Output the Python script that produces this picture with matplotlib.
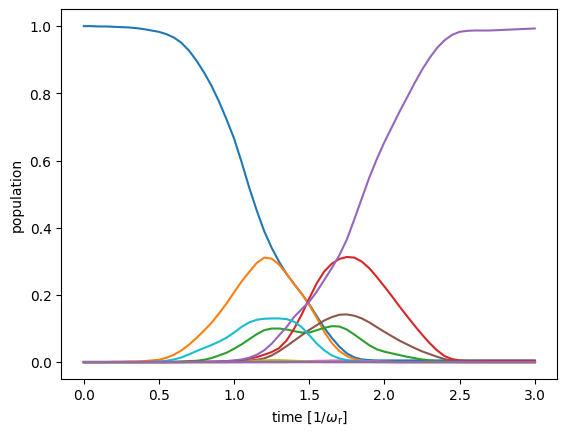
import matplotlib.pyplot as plt
import numpy as np

# time grid, step 0.05 from 0 to 3
time = np.round(np.arange(61) * 0.05, 2)

Z10 = [0.0] * 10

# populations of the states (61 samples each)
pop0 = ([1.000, 1.000, 0.999, 0.999, 0.998, 0.997, 0.996, 0.994, 0.991, 0.987]
        + [0.983, 0.976, 0.966, 0.950, 0.927, 0.897, 0.862, 0.822, 0.775, 0.722]
        + [0.665, 0.595, 0.520, 0.452, 0.390, 0.340, 0.298, 0.262, 0.232, 0.203]
        + [0.172, 0.137, 0.102, 0.072, 0.046, 0.026, 0.014, 0.008, 0.006, 0.005]
        + [0.005] * 10 + [0.005] * 10 + [0.005])
pop1 = ([0.000, 0.000, 0.000, 0.000, 0.001, 0.001, 0.002, 0.002, 0.003, 0.005]
        + [0.007, 0.013, 0.022, 0.035, 0.052, 0.072, 0.094, 0.117, 0.145, 0.175]
        + [0.208, 0.240, 0.268, 0.295, 0.311, 0.308, 0.290, 0.262, 0.232, 0.203]
        + [0.170, 0.132, 0.090, 0.057, 0.033, 0.018, 0.009, 0.004, 0.002, 0.001]
        + [0.001, 0.001] + [0.0] * 8 + Z10 + [0.0])
pop2 = (Z10
        + [0.000, 0.000, 0.001, 0.002, 0.003, 0.004, 0.007, 0.012, 0.020, 0.028]
        + [0.040, 0.053, 0.068, 0.083, 0.095, 0.100, 0.100, 0.097, 0.092, 0.088]
        + [0.088, 0.095, 0.102, 0.107, 0.106, 0.097, 0.082, 0.066, 0.050, 0.038]
        + [0.031, 0.026, 0.021, 0.016, 0.012, 0.008, 0.005, 0.003, 0.002, 0.001]
        + Z10 + [0.0])
pop3 = (Z10
        + [0.000, 0.000, 0.000, 0.000, 0.001, 0.001, 0.001, 0.001, 0.002, 0.003]
        + [0.004, 0.006, 0.010, 0.015, 0.022, 0.030, 0.042, 0.065, 0.100, 0.142]
        + [0.190, 0.235, 0.270, 0.293, 0.307, 0.313, 0.311, 0.299, 0.279, 0.253]
        + [0.225, 0.196, 0.166, 0.137, 0.109, 0.082, 0.057, 0.035, 0.018, 0.009]
        + [0.005] + [0.004] * 9 + [0.004])
pop4 = (Z10
        + [0.000, 0.000, 0.000, 0.000, 0.001, 0.001, 0.001, 0.002, 0.002, 0.003]
        + [0.005, 0.008, 0.013, 0.022, 0.035, 0.055, 0.080, 0.105, 0.135, 0.158]
        + [0.180, 0.210, 0.245, 0.280, 0.318, 0.365, 0.425, 0.488, 0.550, 0.605]
        + [0.655, 0.700, 0.745, 0.787, 0.830, 0.870, 0.905, 0.935, 0.958, 0.974]
        + [0.983, 0.986, 0.987, 0.987, 0.987, 0.988, 0.989, 0.990, 0.991, 0.992]
        + [0.993])
pop5 = (Z10 + Z10
        + [0.001, 0.002, 0.004, 0.007, 0.011, 0.020, 0.033, 0.048, 0.064, 0.080]
        + [0.096, 0.110, 0.124, 0.134, 0.141, 0.142, 0.138, 0.130, 0.118, 0.104]
        + [0.090, 0.077, 0.064, 0.053, 0.042, 0.032, 0.024, 0.016, 0.009, 0.005]
        + [0.003, 0.002, 0.001, 0.001] + [0.0] * 6 + [0.0])
pop6 = (Z10 + Z10
        + [0.0, 0.0, 0.0, 0.0, 0.0, 0.0, 0.0, 0.0, 0.001, 0.002]
        + [0.003, 0.004, 0.004, 0.005, 0.005, 0.005, 0.004, 0.004, 0.003, 0.002]
        + [0.001] + [0.0] * 9 + Z10 + [0.0])
pop7 = [0.0] * 61
pop8 = (Z10 + Z10
        + [0.0, 0.0, 0.002, 0.004, 0.005, 0.006, 0.006, 0.005, 0.004, 0.003]
        + [0.002, 0.001] + [0.0] * 8 + Z10 + Z10 + [0.0])
pop9 = ([0.0] * 9 + [0.001]
        + [0.002, 0.004, 0.008, 0.014, 0.023, 0.033, 0.042, 0.051, 0.061, 0.073]
        + [0.088, 0.105, 0.118, 0.126, 0.129, 0.130, 0.130, 0.128, 0.120, 0.104]
        + [0.080, 0.055, 0.035, 0.020, 0.011, 0.006, 0.003, 0.002, 0.001, 0.000]
        + Z10 + Z10 + [0.0])
# remaining states stay empty
pop10 = [0.0] * 61
pop11 = [0.0] * 61
pop12 = [0.0] * 61
pop13 = [0.0] * 61
pop14 = [0.0] * 61

populations = [pop0, pop1, pop2, pop3, pop4, pop5, pop6, pop7, pop8, pop9,
               pop10, pop11, pop12, pop13, pop14]

fig, ax = plt.subplots(figsize=(6.4, 4.8))
for pop in populations:
    ax.plot(time, pop)

ax.set_xlabel(r'time [$1/\omega_{\rm r}$]')
ax.set_ylabel('population')

plt.savefig('out.png', dpi=100, bbox_inches='tight')
